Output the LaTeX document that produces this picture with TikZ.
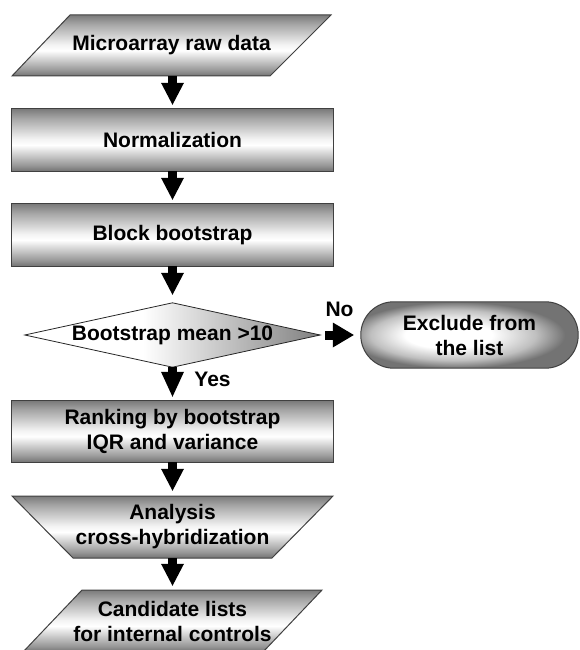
\documentclass[tikz,border=0pt]{standalone}
\usepackage{fontspec}
\setmainfont{Liberation Sans}
\usetikzlibrary{arrows.meta,calc,backgrounds}
\pgfdeclareverticalshading{tube}{100bp}{color(0bp)=(black!55); color(25bp)=(black!55); color(30bp)=(black!40); color(46bp)=(white); color(51bp)=(black!5); color(67.5bp)=(black!35); color(75bp)=(black!52); color(100bp)=(black!52)}
\pgfdeclarehorizontalshading{dia}{100bp}{color(0bp)=(white); color(25bp)=(white); color(45bp)=(white); color(75bp)=(black!50); color(100bp)=(black!50)}
\pgfdeclareradialshading{pill}{\pgfpoint{-6bp}{0bp}}{color(0bp)=(white); color(10bp)=(white); color(19bp)=(black!25); color(25bp)=(black!55); color(50bp)=(black!55)}
\tikzset{
  lbl/.style={font=\bfseries\fontsize{21}{25}\selectfont, align=center, inner sep=0pt, text=black},
  outline/.style={draw=black!75, line width=1pt, shading=tube},
  blk/.style={line width=9pt, draw=black, -{Triangle[length=22pt,width=23pt,line width=0pt]}, shorten >=4pt},
}
\begin{document}
\begin{tikzpicture}[x=1pt,y=-1pt]
\useasboundingbox (0,0) rectangle (580,650);
% text holders (named nodes)
\node[lbl, minimum width=319pt, minimum height=61pt] (n1) at (171.5,45.5) {Microarray raw data};
\node[lbl, minimum width=321pt, minimum height=62pt] (n2) at (172.5,140) {Normalization};
\node[lbl, minimum width=321pt, minimum height=62pt] (n3) at (172.5,235) {Block bootstrap};
\node[lbl, minimum width=295pt, minimum height=64pt] (n4) at (172.5,335) {Bootstrap mean >10};
\node[lbl, minimum width=217pt, minimum height=66pt] (n5) at (469.5,335) {Exclude from\\the list};
\node[lbl, minimum width=321pt, minimum height=61pt] (n6) at (172.5,431.5) {Ranking by bootstrap\\IQR and variance};
\node[lbl, minimum width=321pt, minimum height=62pt] (n7) at (172.5,527) {Analysis\\cross-hybridization};
\node[lbl, minimum width=299pt, minimum height=62pt] (n8) at (172.5,621) {Candidate lists\\for internal controls};
\node[lbl] (no) at (339.5,309) {No};
\node[lbl] (yes) at (212.5,379) {Yes};
% shapes
\begin{scope}[on background layer]
\path[outline] (70,15) -- (331,15) -- (270,76) -- (12,76) -- cycle;
\path[outline] (n2.north west) rectangle (n2.south east);
\path[outline] (n3.north west) rectangle (n3.south east);
\path[draw=black!85, line width=0.8pt, shading=dia] (n4.west) -- (n4.north) -- (n4.east) -- (n4.south) -- cycle;
\path[draw=black!75, line width=1pt, shading=pill, rounded corners=32.9pt] (n5.north west) rectangle (n5.south east);
\path[outline] (n6.north west) rectangle (n6.south east);
\path[outline] (12,496) -- (333,496) -- (272,558) -- (73,558) -- cycle;
\path[outline] (82,590) -- (322,590) -- (263,652) -- (23,652) -- cycle;
\end{scope}
% connectors
\draw[blk] (n1.south -| n2.north) -- (n2.north);
\draw[blk] (n2.south) -- (n3.north);
\draw[blk, shorten >=8pt] (n3.south) -- (n4.north);
\draw[blk, -{Triangle[length=25pt,width=23pt,line width=0pt]}] (n4.south) -- (n6.north);
\draw[blk, shorten >=5pt] (n6.south) -- (n7.north);
\draw[blk] (n7.south) -- (n8.north);
\draw[line width=9pt, draw=black, -{Triangle[length=21pt,width=25pt,line width=0pt]}, shorten <=5pt, shorten >=7pt] (n4.east) -- (n5.west);
\end{tikzpicture}
\end{document}
